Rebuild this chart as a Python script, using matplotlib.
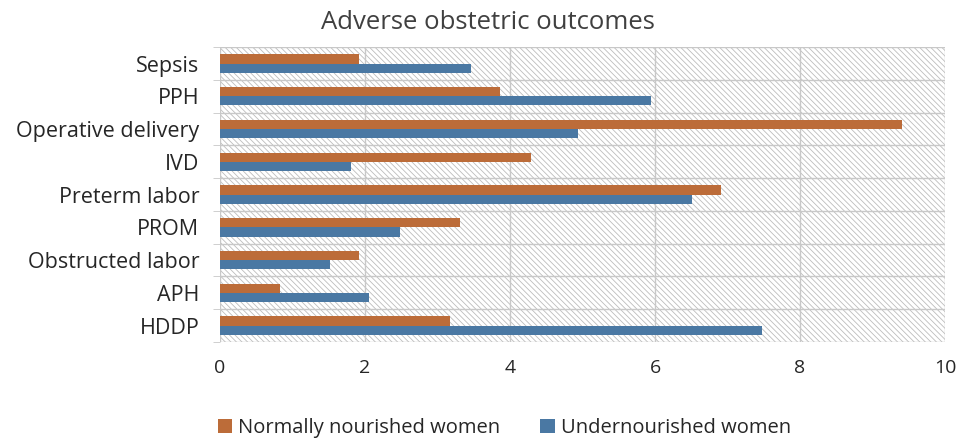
import matplotlib
matplotlib.use("Agg")
import matplotlib.pyplot as plt
import numpy as np
from matplotlib.patches import Rectangle

categories = ["Sepsis", "PPH", "Operative delivery", "IVD", "Preterm labor",
              "PROM", "Obstructed labor", "APH", "HDDP"]
normally = [1.92, 3.86, 9.41, 4.29, 6.91, 3.31, 1.92, 0.83, 3.17]
under = [3.46, 5.94, 4.94, 1.81, 6.51, 2.48, 1.52, 2.06, 7.48]
xticks = [0, 2, 4, 6, 8, 10]

plt.rcParams['font.family'] = ['Open Sans', 'DejaVu Sans']
plt.rcParams['hatch.color'] = '#bcbcbc'
plt.rcParams['hatch.linewidth'] = 0.6

fig = plt.figure(figsize=(9.57, 4.41), dpi=100)
ax = fig.add_axes([0.23, 0.2245, 0.7575, 0.6685])

n = len(categories)
y = np.arange(n)[::-1].astype(float)
h = 0.28
ax.set_ylim(-0.5, n - 0.5)
ax.set_xlim(0, 10)

# hatched background
bg = Rectangle((0, 0), 1, 1, transform=ax.transAxes, facecolor='white',
               edgecolor='#bcbcbc', hatch='\\\\\\\\\\\\', linewidth=0, zorder=0)
ax.add_patch(bg)

c_orange = '#BC6C39'
c_blue = '#4A78A3'
ax.barh(y + h / 2, normally, height=h, color=c_orange, zorder=3,
        label='Normally nourished women')
ax.barh(y - h / 2, under, height=h, color=c_blue, zorder=3,
        label='Undernourished women')

# grid
for xv in xticks:
    ax.axvline(xv, color='#c8c8c8', lw=1.0, zorder=1)
for b in np.arange(-0.5, n, 1.0):
    ax.axhline(b, color='#c8c8c8', lw=1.0, zorder=1)

ax.set_yticks(y)
ax.set_yticklabels(categories, fontsize=15.5, color='#262626')
ax.set_yticks(np.arange(-0.5, n, 1.0), minor=True)
ax.tick_params(axis='y', which='major', length=0, pad=15)
ax.tick_params(axis='y', which='minor', length=5, color='#c8c8c8')
ax.set_xticks(xticks)
ax.set_xticklabels([str(v) for v in xticks], fontsize=14, color='#262626')
ax.tick_params(axis='x', length=0, pad=12)
for s in ax.spines.values():
    s.set_visible(False)

fig.text(0.51, 0.948, "Adverse obstetric outcomes", ha='center', va='center',
         fontsize=18.5, color='#404040')

handles, labels = ax.get_legend_handles_labels()
fig.legend(handles, labels, loc='center', bbox_to_anchor=(0.527, 0.03), ncol=2,
           frameon=False, fontsize=14.5, handlelength=0.7, handleheight=0.7,
           handletextpad=0.3, columnspacing=2.0, labelcolor='#262626')

fig.savefig("out.png", dpi=100)
